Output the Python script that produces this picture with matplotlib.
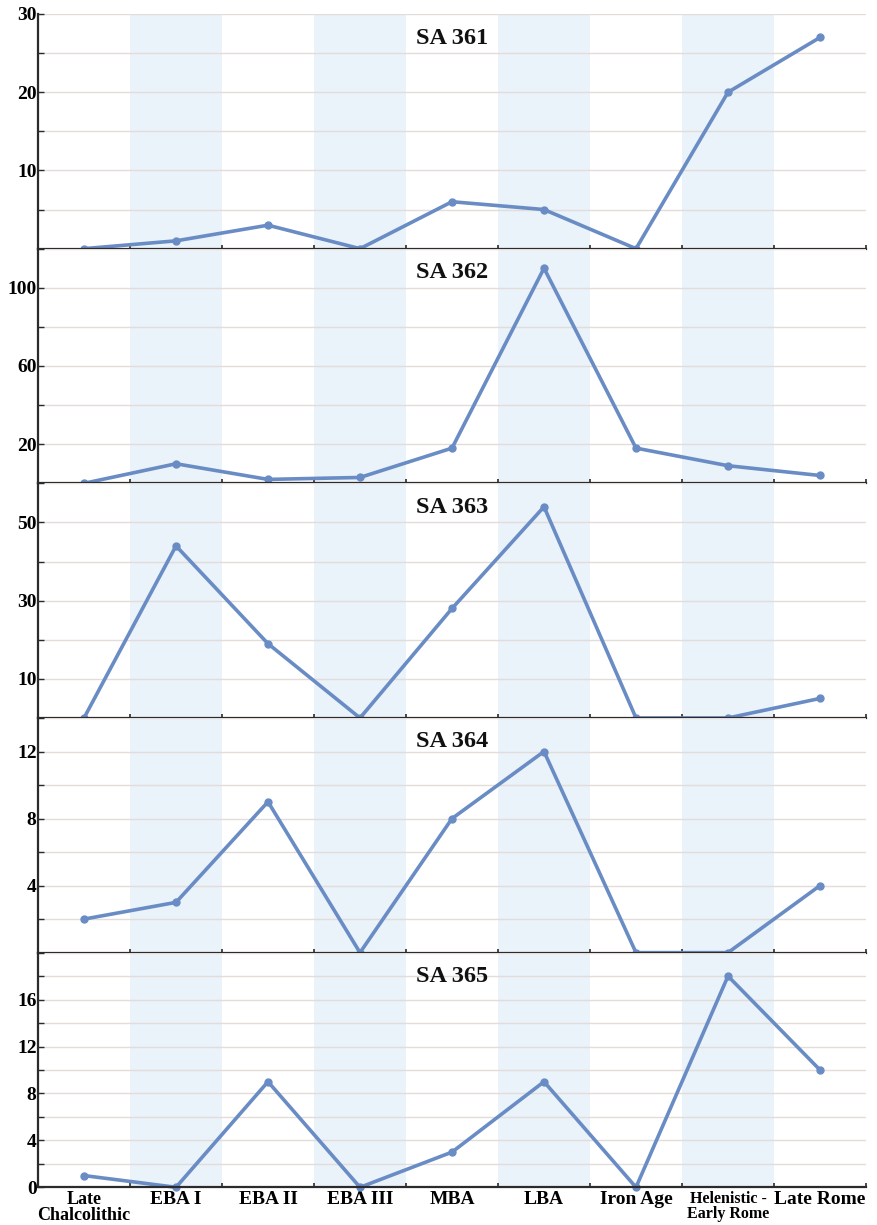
import matplotlib
matplotlib.use("Agg")
import matplotlib.pyplot as plt
from matplotlib.ticker import MultipleLocator, FixedLocator
import numpy as np

periods = ["Late\nChalcolithic", "EBA I", "EBA II", "EBA III", "MBA", "LBA",
           "Iron Age", "Helenistic -\nEarly Rome", "Late Rome"]
titles = ["SA 361", "SA 362", "SA 363", "SA 364", "SA 365"]
sa361 = [0, 1, 3, 0, 6, 5, 0, 20, 27]
sa362 = [0, 10, 2, 3, 18, 110, 18, 9, 4]
sa363 = [0, 44, 19, 0, 28, 54, 0, 0, 5]
sa364 = [2, 3, 9, 0, 8, 12, 0, 0, 4]
sa365 = [1, 0, 9, 0, 3, 9, 0, 18, 10]
series = [sa361, sa362, sa363, sa364, sa365]
ymax = [30, 120, 60, 14, 20]
ylabels = [[10, 20, 30], [20, 60, 100], [10, 30, 50], [4, 8, 12], [0, 4, 8, 12, 16]]
ygrid = [5, 20, 10, 2, 2]
shaded = [1, 3, 5, 7]

plt.rcParams['font.family'] = ['Liberation Serif', 'DejaVu Serif']
plt.rcParams['font.weight'] = 'bold'

W, H = 877, 1225
fig = plt.figure(figsize=(W / 100, H / 100), dpi=100)
left, right = 38 / W, 866 / W
top_px, bot_px = 14, 1187.3
ph = (bot_px - top_px) / 5

line_col = "#6a8cc5"
band_col = "#eaf2fa"
grid_col = "#e2ddd8"
spine_col = "#2b2b2b"

x = np.arange(len(periods))
for i in range(5):
    y0 = bot_px - (4 - i) * ph
    ax = fig.add_axes([left, 1 - y0 / H, right - left, ph / H])
    ax.set_xlim(-0.5, len(periods) - 0.5)
    ax.set_ylim(0, ymax[i])
    for s in shaded:
        ax.axvspan(s - 0.5, s + 0.5, color=band_col, lw=0, zorder=0)
    for g in np.arange(ygrid[i], ymax[i] + 0.01, ygrid[i]):
        ax.axhline(g, color=grid_col, lw=1.0, zorder=1)
    ax.plot(x, series[i], color=line_col, lw=2.6, marker='o', ms=5,
            solid_capstyle='round', solid_joinstyle='round', zorder=3, clip_on=False)
    for sp in ['top', 'right']:
        ax.spines[sp].set_visible(False)
    ax.spines['left'].set_color(spine_col)
    ax.spines['left'].set_linewidth(1.6)
    ax.spines['bottom'].set_color(spine_col)
    ax.spines['bottom'].set_linewidth(1.6)
    ax.spines['left'].set_zorder(4)
    ax.spines['bottom'].set_zorder(4)
    ax.yaxis.set_major_locator(FixedLocator(ylabels[i]))
    ax.yaxis.set_minor_locator(MultipleLocator(ygrid[i]))
    ax.tick_params(axis='y', which='both', direction='in', length=4, width=1,
                   color=spine_col, labelsize=14, pad=1)
    ax.set_xticks(x)
    ax.set_xticks(np.arange(-0.5, len(periods), 1.0)[1:], minor=True)
    ax.tick_params(axis='x', which='major', length=0)
    ax.tick_params(axis='x', which='minor', direction='in', length=3, width=1.2,
                   color=spine_col)
    if i == 4:
        ax.set_xticklabels(periods, fontsize=14, linespacing=0.9)
        lbls = ax.get_xticklabels()
        lbls[0].set_fontsize(13)
        lbls[7].set_fontsize(11.5)
        ax.tick_params(axis='x', which='major', pad=3)
    else:
        ax.set_xticklabels([])
    ax.text(0.5, 1 - 24 / ph, titles[i], transform=ax.transAxes, ha='center',
            va='center', fontsize=17.5, fontweight='bold', color='#111111', zorder=5)

fig.savefig("out.png", dpi=100)
